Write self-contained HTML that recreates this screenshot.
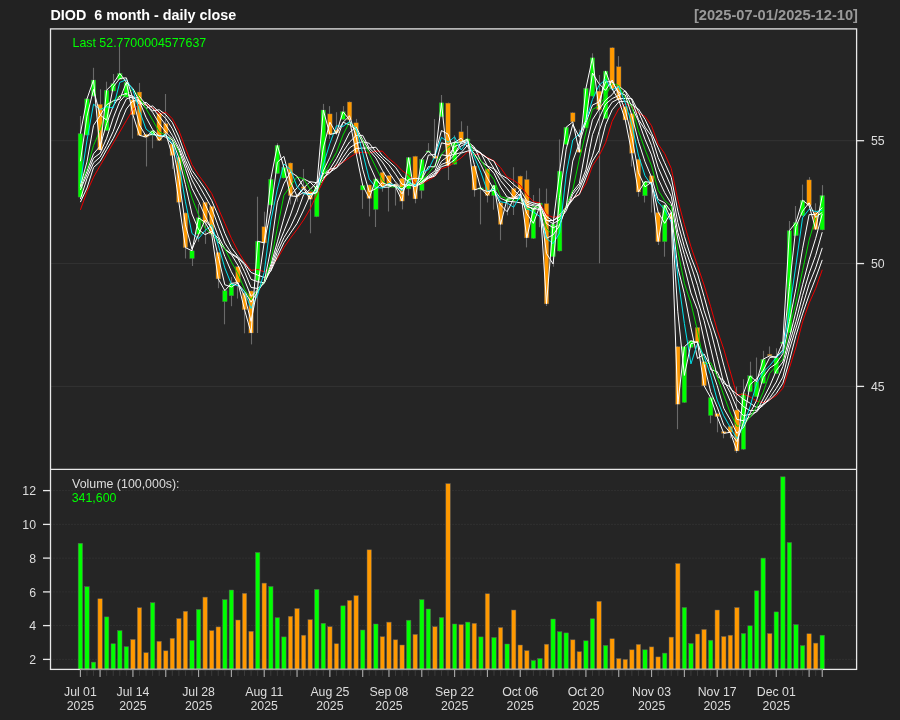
<!DOCTYPE html>
<html><head><meta charset="utf-8"><title>DIOD 6 month - daily close</title>
<style>
html,body{margin:0;padding:0;background:#222222;width:900px;height:720px;overflow:hidden}
text{font-family:"Liberation Sans",Arial,Helvetica,sans-serif}
.title{font-size:14.35px;font-weight:bold;fill:#ffffff}
.ax{font-size:12.3px;fill:#dddddd}
.lg{font-size:12.4px}
</style></head><body>
<svg width="900" height="720" viewBox="0 0 900 720" style="display:block">
<rect x="0" y="0" width="900" height="720" fill="#222222"/>
<rect x="50.5" y="28.9" width="806.1" height="640.5" fill="#252525"/>
<line x1="50.5" y1="386.40" x2="856.6" y2="386.40" stroke="#333333" stroke-width="1"/>
<line x1="50.5" y1="263.55" x2="856.6" y2="263.55" stroke="#333333" stroke-width="1"/>
<line x1="50.5" y1="140.70" x2="856.6" y2="140.70" stroke="#333333" stroke-width="1"/>
<line x1="50.5" y1="659.4" x2="856.6" y2="659.4" stroke="#3a3a3a" stroke-width="1" stroke-dasharray="1,2"/>
<line x1="50.5" y1="625.6" x2="856.6" y2="625.6" stroke="#3a3a3a" stroke-width="1" stroke-dasharray="1,2"/>
<line x1="50.5" y1="591.9" x2="856.6" y2="591.9" stroke="#3a3a3a" stroke-width="1" stroke-dasharray="1,2"/>
<line x1="50.5" y1="558.1" x2="856.6" y2="558.1" stroke="#3a3a3a" stroke-width="1" stroke-dasharray="1,2"/>
<line x1="50.5" y1="524.4" x2="856.6" y2="524.4" stroke="#3a3a3a" stroke-width="1" stroke-dasharray="1,2"/>
<line x1="50.5" y1="490.6" x2="856.6" y2="490.6" stroke="#3a3a3a" stroke-width="1" stroke-dasharray="1,2"/>
<rect x="78.15" y="543.30" width="4.5" height="126.60" fill="#00ff00" stroke="#5c5c5c" stroke-width="0.5"/>
<rect x="84.72" y="586.70" width="4.5" height="83.20" fill="#00ff00" stroke="#5c5c5c" stroke-width="0.5"/>
<rect x="91.28" y="662.10" width="4.5" height="7.80" fill="#00ff00" stroke="#5c5c5c" stroke-width="0.5"/>
<rect x="97.84" y="598.75" width="4.5" height="71.15" fill="#ff9900" stroke="#5c5c5c" stroke-width="0.5"/>
<rect x="104.41" y="616.90" width="4.5" height="53.00" fill="#00ff00" stroke="#5c5c5c" stroke-width="0.5"/>
<rect x="110.98" y="643.75" width="4.5" height="26.15" fill="#00ff00" stroke="#5c5c5c" stroke-width="0.5"/>
<rect x="117.54" y="630.60" width="4.5" height="39.30" fill="#00ff00" stroke="#5c5c5c" stroke-width="0.5"/>
<rect x="124.11" y="646.70" width="4.5" height="23.20" fill="#00ff00" stroke="#5c5c5c" stroke-width="0.5"/>
<rect x="130.67" y="639.40" width="4.5" height="30.50" fill="#ff9900" stroke="#5c5c5c" stroke-width="0.5"/>
<rect x="137.24" y="607.70" width="4.5" height="62.20" fill="#ff9900" stroke="#5c5c5c" stroke-width="0.5"/>
<rect x="143.80" y="652.70" width="4.5" height="17.20" fill="#ff9900" stroke="#5c5c5c" stroke-width="0.5"/>
<rect x="150.37" y="602.70" width="4.5" height="67.20" fill="#00ff00" stroke="#5c5c5c" stroke-width="0.5"/>
<rect x="156.93" y="641.25" width="4.5" height="28.65" fill="#ff9900" stroke="#5c5c5c" stroke-width="0.5"/>
<rect x="163.50" y="650.80" width="4.5" height="19.10" fill="#ff9900" stroke="#5c5c5c" stroke-width="0.5"/>
<rect x="170.06" y="638.30" width="4.5" height="31.60" fill="#ff9900" stroke="#5c5c5c" stroke-width="0.5"/>
<rect x="176.62" y="618.50" width="4.5" height="51.40" fill="#ff9900" stroke="#5c5c5c" stroke-width="0.5"/>
<rect x="183.19" y="611.25" width="4.5" height="58.65" fill="#ff9900" stroke="#5c5c5c" stroke-width="0.5"/>
<rect x="189.75" y="640.40" width="4.5" height="29.50" fill="#00ff00" stroke="#5c5c5c" stroke-width="0.5"/>
<rect x="196.32" y="609.40" width="4.5" height="60.50" fill="#00ff00" stroke="#5c5c5c" stroke-width="0.5"/>
<rect x="202.89" y="597.10" width="4.5" height="72.80" fill="#ff9900" stroke="#5c5c5c" stroke-width="0.5"/>
<rect x="209.45" y="630.60" width="4.5" height="39.30" fill="#ff9900" stroke="#5c5c5c" stroke-width="0.5"/>
<rect x="216.02" y="626.90" width="4.5" height="43.00" fill="#ff9900" stroke="#5c5c5c" stroke-width="0.5"/>
<rect x="222.58" y="599.60" width="4.5" height="70.30" fill="#00ff00" stroke="#5c5c5c" stroke-width="0.5"/>
<rect x="229.15" y="590.00" width="4.5" height="79.90" fill="#00ff00" stroke="#5c5c5c" stroke-width="0.5"/>
<rect x="235.71" y="620.00" width="4.5" height="49.90" fill="#ff9900" stroke="#5c5c5c" stroke-width="0.5"/>
<rect x="242.28" y="593.30" width="4.5" height="76.60" fill="#ff9900" stroke="#5c5c5c" stroke-width="0.5"/>
<rect x="248.84" y="631.25" width="4.5" height="38.65" fill="#ff9900" stroke="#5c5c5c" stroke-width="0.5"/>
<rect x="255.41" y="552.50" width="4.5" height="117.40" fill="#00ff00" stroke="#5c5c5c" stroke-width="0.5"/>
<rect x="261.97" y="583.10" width="4.5" height="86.80" fill="#ff9900" stroke="#5c5c5c" stroke-width="0.5"/>
<rect x="268.54" y="586.50" width="4.5" height="83.40" fill="#00ff00" stroke="#5c5c5c" stroke-width="0.5"/>
<rect x="275.10" y="617.70" width="4.5" height="52.20" fill="#00ff00" stroke="#5c5c5c" stroke-width="0.5"/>
<rect x="281.67" y="636.90" width="4.5" height="33.00" fill="#00ff00" stroke="#5c5c5c" stroke-width="0.5"/>
<rect x="288.23" y="616.25" width="4.5" height="53.65" fill="#ff9900" stroke="#5c5c5c" stroke-width="0.5"/>
<rect x="294.80" y="608.50" width="4.5" height="61.40" fill="#ff9900" stroke="#5c5c5c" stroke-width="0.5"/>
<rect x="301.36" y="635.20" width="4.5" height="34.70" fill="#ff9900" stroke="#5c5c5c" stroke-width="0.5"/>
<rect x="307.93" y="619.60" width="4.5" height="50.30" fill="#ff9900" stroke="#5c5c5c" stroke-width="0.5"/>
<rect x="314.49" y="589.40" width="4.5" height="80.50" fill="#00ff00" stroke="#5c5c5c" stroke-width="0.5"/>
<rect x="321.06" y="623.30" width="4.5" height="46.60" fill="#00ff00" stroke="#5c5c5c" stroke-width="0.5"/>
<rect x="327.62" y="626.70" width="4.5" height="43.20" fill="#ff9900" stroke="#5c5c5c" stroke-width="0.5"/>
<rect x="334.19" y="643.75" width="4.5" height="26.15" fill="#ff9900" stroke="#5c5c5c" stroke-width="0.5"/>
<rect x="340.75" y="605.80" width="4.5" height="64.10" fill="#00ff00" stroke="#5c5c5c" stroke-width="0.5"/>
<rect x="347.32" y="600.40" width="4.5" height="69.50" fill="#ff9900" stroke="#5c5c5c" stroke-width="0.5"/>
<rect x="353.88" y="595.60" width="4.5" height="74.30" fill="#ff9900" stroke="#5c5c5c" stroke-width="0.5"/>
<rect x="360.45" y="630.00" width="4.5" height="39.90" fill="#00ff00" stroke="#5c5c5c" stroke-width="0.5"/>
<rect x="367.01" y="549.80" width="4.5" height="120.10" fill="#ff9900" stroke="#5c5c5c" stroke-width="0.5"/>
<rect x="373.58" y="624.00" width="4.5" height="45.90" fill="#00ff00" stroke="#5c5c5c" stroke-width="0.5"/>
<rect x="380.14" y="636.70" width="4.5" height="33.20" fill="#ff9900" stroke="#5c5c5c" stroke-width="0.5"/>
<rect x="386.71" y="622.10" width="4.5" height="47.80" fill="#ff9900" stroke="#5c5c5c" stroke-width="0.5"/>
<rect x="393.27" y="639.80" width="4.5" height="30.10" fill="#ff9900" stroke="#5c5c5c" stroke-width="0.5"/>
<rect x="399.84" y="645.00" width="4.5" height="24.90" fill="#ff9900" stroke="#5c5c5c" stroke-width="0.5"/>
<rect x="406.40" y="620.20" width="4.5" height="49.70" fill="#00ff00" stroke="#5c5c5c" stroke-width="0.5"/>
<rect x="412.97" y="634.40" width="4.5" height="35.50" fill="#ff9900" stroke="#5c5c5c" stroke-width="0.5"/>
<rect x="419.53" y="599.60" width="4.5" height="70.30" fill="#00ff00" stroke="#5c5c5c" stroke-width="0.5"/>
<rect x="426.10" y="609.00" width="4.5" height="60.90" fill="#00ff00" stroke="#5c5c5c" stroke-width="0.5"/>
<rect x="432.66" y="626.70" width="4.5" height="43.20" fill="#ff9900" stroke="#5c5c5c" stroke-width="0.5"/>
<rect x="439.23" y="617.50" width="4.5" height="52.40" fill="#00ff00" stroke="#5c5c5c" stroke-width="0.5"/>
<rect x="445.79" y="483.60" width="4.5" height="186.30" fill="#ff9900" stroke="#5c5c5c" stroke-width="0.5"/>
<rect x="452.36" y="624.00" width="4.5" height="45.90" fill="#00ff00" stroke="#5c5c5c" stroke-width="0.5"/>
<rect x="458.92" y="624.60" width="4.5" height="45.30" fill="#ff9900" stroke="#5c5c5c" stroke-width="0.5"/>
<rect x="465.49" y="622.10" width="4.5" height="47.80" fill="#00ff00" stroke="#5c5c5c" stroke-width="0.5"/>
<rect x="472.05" y="623.30" width="4.5" height="46.60" fill="#ff9900" stroke="#5c5c5c" stroke-width="0.5"/>
<rect x="478.62" y="636.90" width="4.5" height="33.00" fill="#00ff00" stroke="#5c5c5c" stroke-width="0.5"/>
<rect x="485.18" y="593.75" width="4.5" height="76.15" fill="#ff9900" stroke="#5c5c5c" stroke-width="0.5"/>
<rect x="491.75" y="637.50" width="4.5" height="32.40" fill="#00ff00" stroke="#5c5c5c" stroke-width="0.5"/>
<rect x="498.31" y="627.50" width="4.5" height="42.40" fill="#ff9900" stroke="#5c5c5c" stroke-width="0.5"/>
<rect x="504.88" y="644.00" width="4.5" height="25.90" fill="#00ff00" stroke="#5c5c5c" stroke-width="0.5"/>
<rect x="511.44" y="610.00" width="4.5" height="59.90" fill="#ff9900" stroke="#5c5c5c" stroke-width="0.5"/>
<rect x="518.00" y="645.00" width="4.5" height="24.90" fill="#ff9900" stroke="#5c5c5c" stroke-width="0.5"/>
<rect x="524.57" y="650.60" width="4.5" height="19.30" fill="#ff9900" stroke="#5c5c5c" stroke-width="0.5"/>
<rect x="531.13" y="660.40" width="4.5" height="9.50" fill="#00ff00" stroke="#5c5c5c" stroke-width="0.5"/>
<rect x="537.70" y="658.50" width="4.5" height="11.40" fill="#00ff00" stroke="#5c5c5c" stroke-width="0.5"/>
<rect x="544.26" y="644.20" width="4.5" height="25.70" fill="#ff9900" stroke="#5c5c5c" stroke-width="0.5"/>
<rect x="550.83" y="619.00" width="4.5" height="50.90" fill="#00ff00" stroke="#5c5c5c" stroke-width="0.5"/>
<rect x="557.39" y="631.70" width="4.5" height="38.20" fill="#00ff00" stroke="#5c5c5c" stroke-width="0.5"/>
<rect x="563.96" y="632.90" width="4.5" height="37.00" fill="#00ff00" stroke="#5c5c5c" stroke-width="0.5"/>
<rect x="570.53" y="639.80" width="4.5" height="30.10" fill="#ff9900" stroke="#5c5c5c" stroke-width="0.5"/>
<rect x="577.09" y="651.70" width="4.5" height="18.20" fill="#ff9900" stroke="#5c5c5c" stroke-width="0.5"/>
<rect x="583.66" y="640.80" width="4.5" height="29.10" fill="#00ff00" stroke="#5c5c5c" stroke-width="0.5"/>
<rect x="590.22" y="618.75" width="4.5" height="51.15" fill="#00ff00" stroke="#5c5c5c" stroke-width="0.5"/>
<rect x="596.78" y="601.25" width="4.5" height="68.65" fill="#ff9900" stroke="#5c5c5c" stroke-width="0.5"/>
<rect x="603.35" y="645.40" width="4.5" height="24.50" fill="#00ff00" stroke="#5c5c5c" stroke-width="0.5"/>
<rect x="609.91" y="638.75" width="4.5" height="31.15" fill="#ff9900" stroke="#5c5c5c" stroke-width="0.5"/>
<rect x="616.48" y="658.50" width="4.5" height="11.40" fill="#ff9900" stroke="#5c5c5c" stroke-width="0.5"/>
<rect x="623.04" y="659.40" width="4.5" height="10.50" fill="#ff9900" stroke="#5c5c5c" stroke-width="0.5"/>
<rect x="629.61" y="649.80" width="4.5" height="20.10" fill="#ff9900" stroke="#5c5c5c" stroke-width="0.5"/>
<rect x="636.17" y="644.40" width="4.5" height="25.50" fill="#ff9900" stroke="#5c5c5c" stroke-width="0.5"/>
<rect x="642.74" y="649.80" width="4.5" height="20.10" fill="#00ff00" stroke="#5c5c5c" stroke-width="0.5"/>
<rect x="649.31" y="646.90" width="4.5" height="23.00" fill="#ff9900" stroke="#5c5c5c" stroke-width="0.5"/>
<rect x="655.87" y="656.90" width="4.5" height="13.00" fill="#ff9900" stroke="#5c5c5c" stroke-width="0.5"/>
<rect x="662.44" y="653.10" width="4.5" height="16.80" fill="#00ff00" stroke="#5c5c5c" stroke-width="0.5"/>
<rect x="669.00" y="637.10" width="4.5" height="32.80" fill="#ff9900" stroke="#5c5c5c" stroke-width="0.5"/>
<rect x="675.57" y="563.50" width="4.5" height="106.40" fill="#ff9900" stroke="#5c5c5c" stroke-width="0.5"/>
<rect x="682.13" y="607.50" width="4.5" height="62.40" fill="#00ff00" stroke="#5c5c5c" stroke-width="0.5"/>
<rect x="688.70" y="643.50" width="4.5" height="26.40" fill="#00ff00" stroke="#5c5c5c" stroke-width="0.5"/>
<rect x="695.26" y="634.00" width="4.5" height="35.90" fill="#ff9900" stroke="#5c5c5c" stroke-width="0.5"/>
<rect x="701.83" y="629.40" width="4.5" height="40.50" fill="#ff9900" stroke="#5c5c5c" stroke-width="0.5"/>
<rect x="708.39" y="640.20" width="4.5" height="29.70" fill="#00ff00" stroke="#5c5c5c" stroke-width="0.5"/>
<rect x="714.96" y="610.00" width="4.5" height="59.90" fill="#ff9900" stroke="#5c5c5c" stroke-width="0.5"/>
<rect x="721.52" y="636.50" width="4.5" height="33.40" fill="#ff9900" stroke="#5c5c5c" stroke-width="0.5"/>
<rect x="728.09" y="635.20" width="4.5" height="34.70" fill="#ff9900" stroke="#5c5c5c" stroke-width="0.5"/>
<rect x="734.65" y="607.50" width="4.5" height="62.40" fill="#ff9900" stroke="#5c5c5c" stroke-width="0.5"/>
<rect x="741.22" y="633.50" width="4.5" height="36.40" fill="#00ff00" stroke="#5c5c5c" stroke-width="0.5"/>
<rect x="747.78" y="625.80" width="4.5" height="44.10" fill="#00ff00" stroke="#5c5c5c" stroke-width="0.5"/>
<rect x="754.35" y="590.80" width="4.5" height="79.10" fill="#00ff00" stroke="#5c5c5c" stroke-width="0.5"/>
<rect x="760.91" y="558.10" width="4.5" height="111.80" fill="#00ff00" stroke="#5c5c5c" stroke-width="0.5"/>
<rect x="767.48" y="633.50" width="4.5" height="36.40" fill="#ff9900" stroke="#5c5c5c" stroke-width="0.5"/>
<rect x="774.04" y="611.90" width="4.5" height="58.00" fill="#00ff00" stroke="#5c5c5c" stroke-width="0.5"/>
<rect x="780.61" y="476.80" width="4.5" height="193.10" fill="#00ff00" stroke="#5c5c5c" stroke-width="0.5"/>
<rect x="787.17" y="542.50" width="4.5" height="127.40" fill="#00ff00" stroke="#5c5c5c" stroke-width="0.5"/>
<rect x="793.74" y="624.60" width="4.5" height="45.30" fill="#00ff00" stroke="#5c5c5c" stroke-width="0.5"/>
<rect x="800.30" y="645.60" width="4.5" height="24.30" fill="#00ff00" stroke="#5c5c5c" stroke-width="0.5"/>
<rect x="806.87" y="633.75" width="4.5" height="36.15" fill="#ff9900" stroke="#5c5c5c" stroke-width="0.5"/>
<rect x="813.43" y="643.10" width="4.5" height="26.80" fill="#ff9900" stroke="#5c5c5c" stroke-width="0.5"/>
<rect x="820.00" y="635.20" width="4.5" height="34.70" fill="#00ff00" stroke="#5c5c5c" stroke-width="0.5"/>
<line x1="80.50" y1="116.0" x2="80.50" y2="197.1" stroke="#6a6a6a" stroke-width="1.1"/>
<line x1="86.50" y1="98.4" x2="86.50" y2="135.5" stroke="#6a6a6a" stroke-width="1.1"/>
<line x1="93.50" y1="67.8" x2="93.50" y2="96.5" stroke="#6a6a6a" stroke-width="1.1"/>
<line x1="100.50" y1="89.2" x2="100.50" y2="150.5" stroke="#6a6a6a" stroke-width="1.1"/>
<line x1="106.50" y1="81.7" x2="106.50" y2="131.0" stroke="#6a6a6a" stroke-width="1.1"/>
<line x1="113.50" y1="74.0" x2="113.50" y2="91.5" stroke="#6a6a6a" stroke-width="1.1"/>
<line x1="119.50" y1="44.9" x2="119.50" y2="80.0" stroke="#6a6a6a" stroke-width="1.1"/>
<line x1="126.50" y1="81.8" x2="126.50" y2="97.7" stroke="#6a6a6a" stroke-width="1.1"/>
<line x1="132.50" y1="99.3" x2="132.50" y2="138.6" stroke="#6a6a6a" stroke-width="1.1"/>
<line x1="139.50" y1="82.9" x2="139.50" y2="135.8" stroke="#6a6a6a" stroke-width="1.1"/>
<line x1="146.50" y1="133.7" x2="146.50" y2="166.5" stroke="#6a6a6a" stroke-width="1.1"/>
<line x1="152.50" y1="130.3" x2="152.50" y2="148.3" stroke="#6a6a6a" stroke-width="1.1"/>
<line x1="159.50" y1="112.8" x2="159.50" y2="141.0" stroke="#6a6a6a" stroke-width="1.1"/>
<line x1="165.50" y1="94.0" x2="165.50" y2="134.0" stroke="#6a6a6a" stroke-width="1.1"/>
<line x1="172.50" y1="143.5" x2="172.50" y2="168.9" stroke="#6a6a6a" stroke-width="1.1"/>
<line x1="178.50" y1="156.7" x2="178.50" y2="202.7" stroke="#6a6a6a" stroke-width="1.1"/>
<line x1="185.50" y1="212.5" x2="185.50" y2="258.5" stroke="#6a6a6a" stroke-width="1.1"/>
<line x1="192.50" y1="250.3" x2="192.50" y2="266.0" stroke="#6a6a6a" stroke-width="1.1"/>
<line x1="198.50" y1="204.0" x2="198.50" y2="241.8" stroke="#6a6a6a" stroke-width="1.1"/>
<line x1="205.50" y1="201.7" x2="205.50" y2="243.9" stroke="#6a6a6a" stroke-width="1.1"/>
<line x1="211.50" y1="205.9" x2="211.50" y2="234.7" stroke="#6a6a6a" stroke-width="1.1"/>
<line x1="218.50" y1="252.0" x2="218.50" y2="288.2" stroke="#6a6a6a" stroke-width="1.1"/>
<line x1="224.50" y1="290.1" x2="224.50" y2="324.3" stroke="#6a6a6a" stroke-width="1.1"/>
<line x1="231.50" y1="277.0" x2="231.50" y2="306.2" stroke="#6a6a6a" stroke-width="1.1"/>
<line x1="237.50" y1="266.2" x2="237.50" y2="298.6" stroke="#6a6a6a" stroke-width="1.1"/>
<line x1="244.50" y1="292.5" x2="244.50" y2="333.3" stroke="#6a6a6a" stroke-width="1.1"/>
<line x1="251.50" y1="290.5" x2="251.50" y2="344.4" stroke="#6a6a6a" stroke-width="1.1"/>
<line x1="257.50" y1="196.7" x2="257.50" y2="333.0" stroke="#6a6a6a" stroke-width="1.1"/>
<line x1="264.50" y1="211.7" x2="264.50" y2="243.4" stroke="#6a6a6a" stroke-width="1.1"/>
<line x1="270.50" y1="178.7" x2="270.50" y2="205.5" stroke="#6a6a6a" stroke-width="1.1"/>
<line x1="277.50" y1="143.3" x2="277.50" y2="174.0" stroke="#6a6a6a" stroke-width="1.1"/>
<line x1="283.50" y1="167.0" x2="283.50" y2="178.5" stroke="#6a6a6a" stroke-width="1.1"/>
<line x1="290.50" y1="162.5" x2="290.50" y2="204.5" stroke="#6a6a6a" stroke-width="1.1"/>
<line x1="297.50" y1="195.1" x2="297.50" y2="201.7" stroke="#6a6a6a" stroke-width="1.1"/>
<line x1="303.50" y1="169.0" x2="303.50" y2="190.0" stroke="#6a6a6a" stroke-width="1.1"/>
<line x1="310.50" y1="191.2" x2="310.50" y2="233.3" stroke="#6a6a6a" stroke-width="1.1"/>
<line x1="316.50" y1="185.5" x2="316.50" y2="217.2" stroke="#6a6a6a" stroke-width="1.1"/>
<line x1="323.50" y1="103.9" x2="323.50" y2="173.8" stroke="#6a6a6a" stroke-width="1.1"/>
<line x1="329.50" y1="106.1" x2="329.50" y2="138.9" stroke="#6a6a6a" stroke-width="1.1"/>
<line x1="336.50" y1="112.2" x2="336.50" y2="135.0" stroke="#6a6a6a" stroke-width="1.1"/>
<line x1="343.50" y1="106.1" x2="343.50" y2="119.9" stroke="#6a6a6a" stroke-width="1.1"/>
<line x1="349.50" y1="101.5" x2="349.50" y2="120.5" stroke="#6a6a6a" stroke-width="1.1"/>
<line x1="356.50" y1="118.9" x2="356.50" y2="153.8" stroke="#6a6a6a" stroke-width="1.1"/>
<line x1="362.50" y1="184.8" x2="362.50" y2="208.9" stroke="#6a6a6a" stroke-width="1.1"/>
<line x1="369.50" y1="184.5" x2="369.50" y2="216.5" stroke="#6a6a6a" stroke-width="1.1"/>
<line x1="375.50" y1="178.4" x2="375.50" y2="227.0" stroke="#6a6a6a" stroke-width="1.1"/>
<line x1="382.50" y1="171.9" x2="382.50" y2="191.7" stroke="#6a6a6a" stroke-width="1.1"/>
<line x1="388.50" y1="175.1" x2="388.50" y2="211.5" stroke="#6a6a6a" stroke-width="1.1"/>
<line x1="395.50" y1="183.9" x2="395.50" y2="205.6" stroke="#6a6a6a" stroke-width="1.1"/>
<line x1="402.50" y1="177.8" x2="402.50" y2="209.4" stroke="#6a6a6a" stroke-width="1.1"/>
<line x1="408.50" y1="157.1" x2="408.50" y2="195.6" stroke="#6a6a6a" stroke-width="1.1"/>
<line x1="415.50" y1="155.8" x2="415.50" y2="203.3" stroke="#6a6a6a" stroke-width="1.1"/>
<line x1="421.50" y1="158.8" x2="421.50" y2="198.6" stroke="#6a6a6a" stroke-width="1.1"/>
<line x1="428.50" y1="143.1" x2="428.50" y2="152.7" stroke="#6a6a6a" stroke-width="1.1"/>
<line x1="434.50" y1="119.1" x2="434.50" y2="158.8" stroke="#6a6a6a" stroke-width="1.1"/>
<line x1="441.50" y1="95.0" x2="441.50" y2="117.2" stroke="#6a6a6a" stroke-width="1.1"/>
<line x1="448.50" y1="102.6" x2="448.50" y2="180.0" stroke="#6a6a6a" stroke-width="1.1"/>
<line x1="454.50" y1="135.3" x2="454.50" y2="164.7" stroke="#6a6a6a" stroke-width="1.1"/>
<line x1="461.50" y1="121.3" x2="461.50" y2="142.5" stroke="#6a6a6a" stroke-width="1.1"/>
<line x1="467.50" y1="125.8" x2="467.50" y2="141.5" stroke="#6a6a6a" stroke-width="1.1"/>
<line x1="474.50" y1="165.5" x2="474.50" y2="196.7" stroke="#6a6a6a" stroke-width="1.1"/>
<line x1="480.50" y1="187.3" x2="480.50" y2="224.4" stroke="#6a6a6a" stroke-width="1.1"/>
<line x1="487.50" y1="168.4" x2="487.50" y2="202.5" stroke="#6a6a6a" stroke-width="1.1"/>
<line x1="493.50" y1="184.8" x2="493.50" y2="209.7" stroke="#6a6a6a" stroke-width="1.1"/>
<line x1="500.50" y1="202.3" x2="500.50" y2="240.3" stroke="#6a6a6a" stroke-width="1.1"/>
<line x1="507.50" y1="198.6" x2="507.50" y2="215.4" stroke="#6a6a6a" stroke-width="1.1"/>
<line x1="513.50" y1="167.2" x2="513.50" y2="215.0" stroke="#6a6a6a" stroke-width="1.1"/>
<line x1="520.50" y1="175.6" x2="520.50" y2="189.7" stroke="#6a6a6a" stroke-width="1.1"/>
<line x1="526.50" y1="170.6" x2="526.50" y2="247.4" stroke="#6a6a6a" stroke-width="1.1"/>
<line x1="533.50" y1="195.0" x2="533.50" y2="238.9" stroke="#6a6a6a" stroke-width="1.1"/>
<line x1="539.50" y1="188.3" x2="539.50" y2="227.2" stroke="#6a6a6a" stroke-width="1.1"/>
<line x1="546.50" y1="188.6" x2="546.50" y2="306.0" stroke="#6a6a6a" stroke-width="1.1"/>
<line x1="553.50" y1="223.5" x2="553.50" y2="266.7" stroke="#6a6a6a" stroke-width="1.1"/>
<line x1="559.50" y1="139.4" x2="559.50" y2="251.5" stroke="#6a6a6a" stroke-width="1.1"/>
<line x1="566.50" y1="126.7" x2="566.50" y2="144.9" stroke="#6a6a6a" stroke-width="1.1"/>
<line x1="572.50" y1="112.3" x2="572.50" y2="122.4" stroke="#6a6a6a" stroke-width="1.1"/>
<line x1="579.50" y1="129.4" x2="579.50" y2="152.7" stroke="#6a6a6a" stroke-width="1.1"/>
<line x1="585.50" y1="87.8" x2="585.50" y2="128.3" stroke="#6a6a6a" stroke-width="1.1"/>
<line x1="592.50" y1="53.3" x2="592.50" y2="96.6" stroke="#6a6a6a" stroke-width="1.1"/>
<line x1="599.50" y1="75.0" x2="599.50" y2="263.3" stroke="#6a6a6a" stroke-width="1.1"/>
<line x1="605.50" y1="70.6" x2="605.50" y2="119.1" stroke="#6a6a6a" stroke-width="1.1"/>
<line x1="612.50" y1="47.3" x2="612.50" y2="89.4" stroke="#6a6a6a" stroke-width="1.1"/>
<line x1="618.50" y1="56.1" x2="618.50" y2="100.5" stroke="#6a6a6a" stroke-width="1.1"/>
<line x1="625.50" y1="106.2" x2="625.50" y2="120.5" stroke="#6a6a6a" stroke-width="1.1"/>
<line x1="631.50" y1="113.1" x2="631.50" y2="166.5" stroke="#6a6a6a" stroke-width="1.1"/>
<line x1="638.50" y1="158.7" x2="638.50" y2="196.7" stroke="#6a6a6a" stroke-width="1.1"/>
<line x1="644.50" y1="181.2" x2="644.50" y2="202.5" stroke="#6a6a6a" stroke-width="1.1"/>
<line x1="651.50" y1="175.3" x2="651.50" y2="212.5" stroke="#6a6a6a" stroke-width="1.1"/>
<line x1="658.50" y1="212.0" x2="658.50" y2="245.0" stroke="#6a6a6a" stroke-width="1.1"/>
<line x1="664.50" y1="204.5" x2="664.50" y2="256.7" stroke="#6a6a6a" stroke-width="1.1"/>
<line x1="671.50" y1="213.0" x2="671.50" y2="219.8" stroke="#6a6a6a" stroke-width="1.1"/>
<line x1="677.50" y1="346.2" x2="677.50" y2="429.2" stroke="#6a6a6a" stroke-width="1.1"/>
<line x1="684.50" y1="346.2" x2="684.50" y2="403.0" stroke="#6a6a6a" stroke-width="1.1"/>
<line x1="690.50" y1="340.3" x2="690.50" y2="348.0" stroke="#6a6a6a" stroke-width="1.1"/>
<line x1="697.50" y1="327.0" x2="697.50" y2="343.0" stroke="#6a6a6a" stroke-width="1.1"/>
<line x1="704.50" y1="361.2" x2="704.50" y2="386.3" stroke="#6a6a6a" stroke-width="1.1"/>
<line x1="710.50" y1="397.0" x2="710.50" y2="423.3" stroke="#6a6a6a" stroke-width="1.1"/>
<line x1="717.50" y1="413.2" x2="717.50" y2="432.3" stroke="#6a6a6a" stroke-width="1.1"/>
<line x1="723.50" y1="431.0" x2="723.50" y2="438.3" stroke="#6a6a6a" stroke-width="1.1"/>
<line x1="730.50" y1="425.8" x2="730.50" y2="438.3" stroke="#6a6a6a" stroke-width="1.1"/>
<line x1="736.50" y1="386.7" x2="736.50" y2="453.0" stroke="#6a6a6a" stroke-width="1.1"/>
<line x1="743.50" y1="379.2" x2="743.50" y2="449.7" stroke="#6a6a6a" stroke-width="1.1"/>
<line x1="750.50" y1="361.7" x2="750.50" y2="392.2" stroke="#6a6a6a" stroke-width="1.1"/>
<line x1="756.50" y1="357.5" x2="756.50" y2="397.2" stroke="#6a6a6a" stroke-width="1.1"/>
<line x1="763.50" y1="350.8" x2="763.50" y2="383.8" stroke="#6a6a6a" stroke-width="1.1"/>
<line x1="769.50" y1="346.4" x2="769.50" y2="356.3" stroke="#6a6a6a" stroke-width="1.1"/>
<line x1="776.50" y1="348.3" x2="776.50" y2="374.1" stroke="#6a6a6a" stroke-width="1.1"/>
<line x1="782.50" y1="341.5" x2="782.50" y2="344.0" stroke="#6a6a6a" stroke-width="1.1"/>
<line x1="789.50" y1="221.0" x2="789.50" y2="333.0" stroke="#6a6a6a" stroke-width="1.1"/>
<line x1="795.50" y1="206.0" x2="795.50" y2="236.2" stroke="#6a6a6a" stroke-width="1.1"/>
<line x1="802.50" y1="184.6" x2="802.50" y2="216.3" stroke="#6a6a6a" stroke-width="1.1"/>
<line x1="809.50" y1="177.1" x2="809.50" y2="205.9" stroke="#6a6a6a" stroke-width="1.1"/>
<line x1="815.50" y1="203.3" x2="815.50" y2="229.9" stroke="#6a6a6a" stroke-width="1.1"/>
<line x1="822.50" y1="185.1" x2="822.50" y2="230.4" stroke="#6a6a6a" stroke-width="1.1"/>
<rect x="78.10" y="133.60" width="4.6" height="63.50" fill="#00ff00" stroke="#5c5c5c" stroke-width="0.4"/>
<rect x="84.67" y="98.90" width="4.6" height="36.10" fill="#00ff00" stroke="#5c5c5c" stroke-width="0.4"/>
<rect x="91.23" y="80.00" width="4.6" height="16.00" fill="#00ff00" stroke="#5c5c5c" stroke-width="0.4"/>
<rect x="97.80" y="104.30" width="4.6" height="45.70" fill="#ff9900" stroke="#5c5c5c" stroke-width="0.4"/>
<rect x="104.36" y="90.20" width="4.6" height="40.30" fill="#00ff00" stroke="#5c5c5c" stroke-width="0.4"/>
<rect x="110.93" y="83.50" width="4.6" height="7.50" fill="#00ff00" stroke="#5c5c5c" stroke-width="0.4"/>
<rect x="117.49" y="73.40" width="4.6" height="6.10" fill="#00ff00" stroke="#5c5c5c" stroke-width="0.4"/>
<rect x="124.06" y="82.30" width="4.6" height="14.90" fill="#00ff00" stroke="#5c5c5c" stroke-width="0.4"/>
<rect x="130.62" y="99.80" width="4.6" height="15.00" fill="#ff9900" stroke="#5c5c5c" stroke-width="0.4"/>
<rect x="137.19" y="92.00" width="4.6" height="43.30" fill="#ff9900" stroke="#5c5c5c" stroke-width="0.4"/>
<rect x="143.75" y="134.20" width="4.6" height="2.90" fill="#ff9900" stroke="#5c5c5c" stroke-width="0.4"/>
<rect x="150.31" y="130.80" width="4.6" height="4.40" fill="#00ff00" stroke="#5c5c5c" stroke-width="0.4"/>
<rect x="156.88" y="113.30" width="4.6" height="27.20" fill="#ff9900" stroke="#5c5c5c" stroke-width="0.4"/>
<rect x="163.44" y="123.50" width="4.6" height="10.00" fill="#ff9900" stroke="#5c5c5c" stroke-width="0.4"/>
<rect x="170.01" y="144.00" width="4.6" height="11.60" fill="#ff9900" stroke="#5c5c5c" stroke-width="0.4"/>
<rect x="176.57" y="157.20" width="4.6" height="45.00" fill="#ff9900" stroke="#5c5c5c" stroke-width="0.4"/>
<rect x="183.14" y="213.00" width="4.6" height="34.60" fill="#ff9900" stroke="#5c5c5c" stroke-width="0.4"/>
<rect x="189.70" y="250.80" width="4.6" height="7.70" fill="#00ff00" stroke="#5c5c5c" stroke-width="0.4"/>
<rect x="196.27" y="217.80" width="4.6" height="16.40" fill="#00ff00" stroke="#5c5c5c" stroke-width="0.4"/>
<rect x="202.84" y="202.20" width="4.6" height="20.20" fill="#ff9900" stroke="#5c5c5c" stroke-width="0.4"/>
<rect x="209.40" y="206.40" width="4.6" height="27.80" fill="#ff9900" stroke="#5c5c5c" stroke-width="0.4"/>
<rect x="215.97" y="252.50" width="4.6" height="26.40" fill="#ff9900" stroke="#5c5c5c" stroke-width="0.4"/>
<rect x="222.53" y="290.60" width="4.6" height="11.10" fill="#00ff00" stroke="#5c5c5c" stroke-width="0.4"/>
<rect x="229.09" y="283.30" width="4.6" height="12.50" fill="#00ff00" stroke="#5c5c5c" stroke-width="0.4"/>
<rect x="235.66" y="266.70" width="4.6" height="15.90" fill="#ff9900" stroke="#5c5c5c" stroke-width="0.4"/>
<rect x="242.22" y="293.00" width="4.6" height="16.70" fill="#ff9900" stroke="#5c5c5c" stroke-width="0.4"/>
<rect x="248.79" y="291.00" width="4.6" height="42.00" fill="#ff9900" stroke="#5c5c5c" stroke-width="0.4"/>
<rect x="255.36" y="241.20" width="4.6" height="39.40" fill="#00ff00" stroke="#5c5c5c" stroke-width="0.4"/>
<rect x="261.92" y="226.70" width="4.6" height="16.20" fill="#ff9900" stroke="#5c5c5c" stroke-width="0.4"/>
<rect x="268.49" y="179.20" width="4.6" height="25.80" fill="#00ff00" stroke="#5c5c5c" stroke-width="0.4"/>
<rect x="275.05" y="145.30" width="4.6" height="28.20" fill="#00ff00" stroke="#5c5c5c" stroke-width="0.4"/>
<rect x="281.62" y="167.50" width="4.6" height="10.50" fill="#00ff00" stroke="#5c5c5c" stroke-width="0.4"/>
<rect x="288.18" y="163.00" width="4.6" height="32.80" fill="#ff9900" stroke="#5c5c5c" stroke-width="0.4"/>
<rect x="294.75" y="195.60" width="4.6" height="1.00" fill="#ff9900" stroke="#5c5c5c" stroke-width="0.4"/>
<rect x="301.31" y="186.80" width="4.6" height="1.60" fill="#ff9900" stroke="#5c5c5c" stroke-width="0.4"/>
<rect x="307.88" y="191.70" width="4.6" height="7.50" fill="#ff9900" stroke="#5c5c5c" stroke-width="0.4"/>
<rect x="314.44" y="186.00" width="4.6" height="30.70" fill="#00ff00" stroke="#5c5c5c" stroke-width="0.4"/>
<rect x="321.00" y="110.00" width="4.6" height="63.30" fill="#00ff00" stroke="#5c5c5c" stroke-width="0.4"/>
<rect x="327.57" y="113.90" width="4.6" height="20.50" fill="#ff9900" stroke="#5c5c5c" stroke-width="0.4"/>
<rect x="334.14" y="130.00" width="4.6" height="3.00" fill="#ff9900" stroke="#5c5c5c" stroke-width="0.4"/>
<rect x="340.70" y="111.70" width="4.6" height="7.70" fill="#00ff00" stroke="#5c5c5c" stroke-width="0.4"/>
<rect x="347.27" y="102.00" width="4.6" height="18.00" fill="#ff9900" stroke="#5c5c5c" stroke-width="0.4"/>
<rect x="353.83" y="122.80" width="4.6" height="30.50" fill="#ff9900" stroke="#5c5c5c" stroke-width="0.4"/>
<rect x="360.40" y="185.30" width="4.6" height="4.70" fill="#00ff00" stroke="#5c5c5c" stroke-width="0.4"/>
<rect x="366.96" y="185.00" width="4.6" height="13.40" fill="#ff9900" stroke="#5c5c5c" stroke-width="0.4"/>
<rect x="373.53" y="178.90" width="4.6" height="30.60" fill="#00ff00" stroke="#5c5c5c" stroke-width="0.4"/>
<rect x="380.09" y="172.40" width="4.6" height="14.30" fill="#ff9900" stroke="#5c5c5c" stroke-width="0.4"/>
<rect x="386.66" y="175.60" width="4.6" height="8.80" fill="#ff9900" stroke="#5c5c5c" stroke-width="0.4"/>
<rect x="393.22" y="184.40" width="4.6" height="2.30" fill="#ff9900" stroke="#5c5c5c" stroke-width="0.4"/>
<rect x="399.79" y="178.30" width="4.6" height="22.80" fill="#ff9900" stroke="#5c5c5c" stroke-width="0.4"/>
<rect x="406.35" y="157.60" width="4.6" height="31.30" fill="#00ff00" stroke="#5c5c5c" stroke-width="0.4"/>
<rect x="412.92" y="156.30" width="4.6" height="42.60" fill="#ff9900" stroke="#5c5c5c" stroke-width="0.4"/>
<rect x="419.48" y="159.30" width="4.6" height="31.30" fill="#00ff00" stroke="#5c5c5c" stroke-width="0.4"/>
<rect x="426.05" y="150.90" width="4.6" height="1.30" fill="#00ff00" stroke="#5c5c5c" stroke-width="0.4"/>
<rect x="432.61" y="156.00" width="4.6" height="2.30" fill="#ff9900" stroke="#5c5c5c" stroke-width="0.4"/>
<rect x="439.18" y="102.80" width="4.6" height="13.90" fill="#00ff00" stroke="#5c5c5c" stroke-width="0.4"/>
<rect x="445.74" y="103.10" width="4.6" height="62.50" fill="#ff9900" stroke="#5c5c5c" stroke-width="0.4"/>
<rect x="452.31" y="142.40" width="4.6" height="21.80" fill="#00ff00" stroke="#5c5c5c" stroke-width="0.4"/>
<rect x="458.87" y="131.80" width="4.6" height="10.20" fill="#ff9900" stroke="#5c5c5c" stroke-width="0.4"/>
<rect x="465.44" y="139.00" width="4.6" height="2.00" fill="#00ff00" stroke="#5c5c5c" stroke-width="0.4"/>
<rect x="472.00" y="166.00" width="4.6" height="24.00" fill="#ff9900" stroke="#5c5c5c" stroke-width="0.4"/>
<rect x="478.56" y="187.80" width="4.6" height="1.60" fill="#00ff00" stroke="#5c5c5c" stroke-width="0.4"/>
<rect x="485.13" y="168.90" width="4.6" height="26.70" fill="#ff9900" stroke="#5c5c5c" stroke-width="0.4"/>
<rect x="491.69" y="185.30" width="4.6" height="10.30" fill="#00ff00" stroke="#5c5c5c" stroke-width="0.4"/>
<rect x="498.26" y="202.80" width="4.6" height="21.60" fill="#ff9900" stroke="#5c5c5c" stroke-width="0.4"/>
<rect x="504.82" y="199.10" width="4.6" height="2.40" fill="#00ff00" stroke="#5c5c5c" stroke-width="0.4"/>
<rect x="511.39" y="188.30" width="4.6" height="10.00" fill="#ff9900" stroke="#5c5c5c" stroke-width="0.4"/>
<rect x="517.96" y="176.10" width="4.6" height="13.10" fill="#ff9900" stroke="#5c5c5c" stroke-width="0.4"/>
<rect x="524.52" y="179.40" width="4.6" height="58.50" fill="#ff9900" stroke="#5c5c5c" stroke-width="0.4"/>
<rect x="531.09" y="208.70" width="4.6" height="29.70" fill="#00ff00" stroke="#5c5c5c" stroke-width="0.4"/>
<rect x="537.65" y="203.00" width="4.6" height="3.00" fill="#00ff00" stroke="#5c5c5c" stroke-width="0.4"/>
<rect x="544.22" y="203.60" width="4.6" height="100.30" fill="#ff9900" stroke="#5c5c5c" stroke-width="0.4"/>
<rect x="550.78" y="224.00" width="4.6" height="32.70" fill="#00ff00" stroke="#5c5c5c" stroke-width="0.4"/>
<rect x="557.35" y="171.10" width="4.6" height="79.90" fill="#00ff00" stroke="#5c5c5c" stroke-width="0.4"/>
<rect x="563.91" y="127.20" width="4.6" height="17.20" fill="#00ff00" stroke="#5c5c5c" stroke-width="0.4"/>
<rect x="570.48" y="112.80" width="4.6" height="9.10" fill="#ff9900" stroke="#5c5c5c" stroke-width="0.4"/>
<rect x="577.04" y="149.40" width="4.6" height="2.80" fill="#ff9900" stroke="#5c5c5c" stroke-width="0.4"/>
<rect x="583.61" y="88.30" width="4.6" height="39.50" fill="#00ff00" stroke="#5c5c5c" stroke-width="0.4"/>
<rect x="590.17" y="57.80" width="4.6" height="38.30" fill="#00ff00" stroke="#5c5c5c" stroke-width="0.4"/>
<rect x="596.74" y="91.10" width="4.6" height="18.60" fill="#ff9900" stroke="#5c5c5c" stroke-width="0.4"/>
<rect x="603.30" y="71.10" width="4.6" height="47.50" fill="#00ff00" stroke="#5c5c5c" stroke-width="0.4"/>
<rect x="609.87" y="47.80" width="4.6" height="41.10" fill="#ff9900" stroke="#5c5c5c" stroke-width="0.4"/>
<rect x="616.43" y="66.70" width="4.6" height="33.30" fill="#ff9900" stroke="#5c5c5c" stroke-width="0.4"/>
<rect x="623.00" y="106.70" width="4.6" height="13.30" fill="#ff9900" stroke="#5c5c5c" stroke-width="0.4"/>
<rect x="629.56" y="113.60" width="4.6" height="39.70" fill="#ff9900" stroke="#5c5c5c" stroke-width="0.4"/>
<rect x="636.12" y="159.20" width="4.6" height="32.80" fill="#ff9900" stroke="#5c5c5c" stroke-width="0.4"/>
<rect x="642.69" y="181.70" width="4.6" height="14.10" fill="#00ff00" stroke="#5c5c5c" stroke-width="0.4"/>
<rect x="649.26" y="175.80" width="4.6" height="6.70" fill="#ff9900" stroke="#5c5c5c" stroke-width="0.4"/>
<rect x="655.82" y="212.50" width="4.6" height="29.20" fill="#ff9900" stroke="#5c5c5c" stroke-width="0.4"/>
<rect x="662.39" y="205.00" width="4.6" height="36.70" fill="#00ff00" stroke="#5c5c5c" stroke-width="0.4"/>
<rect x="668.95" y="213.50" width="4.6" height="5.80" fill="#ff9900" stroke="#5c5c5c" stroke-width="0.4"/>
<rect x="675.52" y="346.70" width="4.6" height="57.50" fill="#ff9900" stroke="#5c5c5c" stroke-width="0.4"/>
<rect x="682.08" y="346.70" width="4.6" height="55.80" fill="#00ff00" stroke="#5c5c5c" stroke-width="0.4"/>
<rect x="688.65" y="340.80" width="4.6" height="6.70" fill="#00ff00" stroke="#5c5c5c" stroke-width="0.4"/>
<rect x="695.21" y="327.50" width="4.6" height="15.00" fill="#ff9900" stroke="#5c5c5c" stroke-width="0.4"/>
<rect x="701.78" y="361.70" width="4.6" height="24.10" fill="#ff9900" stroke="#5c5c5c" stroke-width="0.4"/>
<rect x="708.34" y="397.50" width="4.6" height="18.00" fill="#00ff00" stroke="#5c5c5c" stroke-width="0.4"/>
<rect x="714.91" y="413.70" width="4.6" height="3.00" fill="#ff9900" stroke="#5c5c5c" stroke-width="0.4"/>
<rect x="721.47" y="431.50" width="4.6" height="1.80" fill="#ff9900" stroke="#5c5c5c" stroke-width="0.4"/>
<rect x="728.04" y="426.30" width="4.6" height="6.00" fill="#ff9900" stroke="#5c5c5c" stroke-width="0.4"/>
<rect x="734.60" y="410.00" width="4.6" height="41.00" fill="#ff9900" stroke="#5c5c5c" stroke-width="0.4"/>
<rect x="741.17" y="393.30" width="4.6" height="55.90" fill="#00ff00" stroke="#5c5c5c" stroke-width="0.4"/>
<rect x="747.73" y="375.80" width="4.6" height="15.90" fill="#00ff00" stroke="#5c5c5c" stroke-width="0.4"/>
<rect x="754.30" y="381.70" width="4.6" height="15.00" fill="#00ff00" stroke="#5c5c5c" stroke-width="0.4"/>
<rect x="760.86" y="359.20" width="4.6" height="24.10" fill="#00ff00" stroke="#5c5c5c" stroke-width="0.4"/>
<rect x="767.43" y="354.20" width="4.6" height="1.60" fill="#ff9900" stroke="#5c5c5c" stroke-width="0.4"/>
<rect x="773.99" y="357.60" width="4.6" height="16.00" fill="#00ff00" stroke="#5c5c5c" stroke-width="0.4"/>
<rect x="780.56" y="342.00" width="4.6" height="1.50" fill="#00ff00" stroke="#5c5c5c" stroke-width="0.4"/>
<rect x="787.12" y="230.70" width="4.6" height="101.80" fill="#00ff00" stroke="#5c5c5c" stroke-width="0.4"/>
<rect x="793.69" y="222.30" width="4.6" height="13.40" fill="#00ff00" stroke="#5c5c5c" stroke-width="0.4"/>
<rect x="800.25" y="200.20" width="4.6" height="15.60" fill="#00ff00" stroke="#5c5c5c" stroke-width="0.4"/>
<rect x="806.82" y="179.90" width="4.6" height="25.50" fill="#ff9900" stroke="#5c5c5c" stroke-width="0.4"/>
<rect x="813.38" y="212.20" width="4.6" height="17.20" fill="#ff9900" stroke="#5c5c5c" stroke-width="0.4"/>
<rect x="819.95" y="195.50" width="4.6" height="34.40" fill="#00ff00" stroke="#5c5c5c" stroke-width="0.4"/>
<polyline points="80.40,209.90 86.97,191.76 93.53,177.19 100.09,165.74 106.66,154.33 113.23,143.05 119.79,131.96 126.36,120.68 132.92,109.56 139.49,104.20 146.05,104.55 152.62,107.74 159.18,113.79 165.75,112.14 172.31,118.68 178.88,130.55 185.44,147.97 192.00,164.82 198.57,175.12 205.14,183.83 211.70,193.54 218.27,208.35 224.83,223.36 231.40,238.34 237.96,251.04 244.53,261.79 251.09,270.33 257.66,269.37 264.22,271.88 270.79,267.56 277.35,258.67 283.92,247.53 290.48,238.05 297.05,229.38 303.61,219.96 310.18,208.91 316.74,194.21 323.31,181.09 329.87,170.24 336.44,165.62 343.00,162.26 349.57,157.51 356.13,153.26 362.70,152.13 369.26,153.13 375.83,151.10 382.39,151.17 388.96,158.61 395.52,163.84 402.09,170.65 408.65,175.24 415.22,183.13 421.78,183.73 428.35,180.29 434.91,176.28 441.48,168.67 448.04,166.56 454.61,162.36 461.17,157.89 467.74,151.68 474.30,154.92 480.87,153.81 487.43,157.44 494.00,160.88 500.56,167.49 507.12,177.12 513.69,180.39 520.25,185.07 526.82,194.66 533.38,201.63 539.95,202.93 546.51,214.54 553.08,217.38 559.64,215.96 566.21,206.24 572.78,198.52 579.34,193.91 585.91,183.82 592.47,165.81 599.03,155.91 605.60,142.72 612.16,121.22 618.73,108.82 625.29,103.71 631.86,106.32 638.42,113.33 644.99,116.28 651.56,125.70 658.12,144.09 664.69,153.62 671.25,168.44 677.82,199.97 684.38,224.64 690.95,246.72 697.51,265.64 704.08,285.02 710.64,306.60 717.21,330.02 723.77,349.18 730.34,371.91 736.90,395.08 743.47,393.99 750.03,396.90 756.60,400.99 763.16,402.66 769.73,399.66 776.29,395.67 782.86,388.20 789.42,367.94 795.99,346.94 802.55,321.86 809.12,303.07 815.68,288.43 822.25,269.81" fill="none" stroke="#ee0000" stroke-width="1" stroke-linejoin="round"/>
<polyline points="80.40,202.08 86.97,187.99 93.53,167.49 100.09,161.46 106.66,149.67 113.23,138.47 119.79,124.94 126.36,108.98 132.92,100.74 139.49,100.93 146.05,105.18 152.62,110.82 159.18,109.77 165.75,114.58 172.31,122.59 178.88,136.90 185.44,155.27 192.00,170.38 198.57,179.54 205.14,189.02 211.70,200.51 218.27,215.89 224.83,233.34 231.40,247.53 237.96,256.47 244.53,263.37 251.09,272.50 257.66,275.10 264.22,277.38 270.79,271.27 277.35,256.42 283.92,242.74 290.48,233.02 297.05,223.47 303.61,209.99 310.18,195.12 316.74,188.99 323.31,174.22 329.87,169.24 336.44,167.88 343.00,161.68 349.57,153.26 356.13,148.44 362.70,148.10 369.26,148.01 375.83,147.22 382.39,155.74 388.96,161.30 395.52,167.27 402.09,177.20 408.65,181.38 415.22,186.44 421.78,183.56 428.35,178.28 434.91,175.99 441.48,166.67 448.04,164.58 454.61,159.66 461.17,153.09 467.74,151.02 474.30,150.03 480.87,153.20 487.43,158.17 494.00,161.17 500.56,174.68 507.12,178.40 513.69,184.61 520.25,189.86 526.82,200.84 533.38,202.92 539.95,204.61 546.51,216.64 553.08,220.94 559.64,215.02 566.21,207.03 572.78,198.54 579.34,194.43 585.91,177.81 592.47,161.04 599.03,150.68 605.60,124.81 612.16,109.80 618.73,101.90 625.29,101.10 631.86,104.59 638.42,109.01 644.99,119.39 651.56,133.24 658.12,147.91 664.69,162.79 671.25,177.28 677.82,211.08 684.38,236.27 690.95,257.10 697.51,273.82 704.08,296.50 710.64,320.39 717.21,339.83 723.77,365.20 730.34,388.87 736.90,394.07 743.47,399.24 750.03,403.13 756.60,407.49 763.16,404.53 769.73,399.90 776.29,393.33 782.86,383.19 789.42,360.79 795.99,335.38 802.55,313.92 809.12,294.99 815.68,278.07 822.25,259.88" fill="none" stroke="#ffffff" stroke-width="1" stroke-linejoin="round"/>
<polyline points="80.40,199.12 86.97,178.43 93.53,162.89 100.09,157.10 106.66,145.34 113.23,131.39 119.79,112.31 126.36,98.99 132.92,96.64 139.49,101.19 146.05,108.33 152.62,105.92 159.18,112.21 165.75,118.46 172.31,128.74 178.88,143.72 185.44,160.32 192.00,174.76 198.57,184.85 205.14,196.30 211.70,208.01 218.27,226.19 224.83,243.06 231.40,253.20 237.96,257.58 244.53,264.94 251.09,279.34 257.66,281.69 264.22,282.78 270.79,270.31 277.35,252.15 283.92,237.68 290.48,226.83 297.05,212.69 303.61,194.61 310.18,189.36 316.74,182.25 323.31,173.60 329.87,172.24 336.44,167.93 343.00,157.41 349.57,147.84 356.13,143.45 362.70,141.71 369.26,143.26 375.83,151.88 382.39,158.41 388.96,164.84 395.52,174.21 402.09,184.35 408.65,184.89 415.22,186.59 421.78,181.70 428.35,178.20 434.91,174.65 441.48,164.45 448.04,161.81 454.61,154.48 461.17,152.53 467.74,145.04 474.30,148.88 480.87,153.49 487.43,158.15 494.00,168.46 500.56,175.81 507.12,182.90 513.69,189.94 520.25,196.21 526.82,202.20 533.38,204.81 539.95,205.74 546.51,220.56 553.08,220.51 559.64,217.01 566.21,208.12 572.78,199.71 579.34,189.00 585.91,173.95 592.47,155.80 599.03,131.53 605.60,112.41 612.16,102.14 618.73,98.74 625.29,98.50 631.86,98.64 638.42,111.60 644.99,127.09 651.56,136.19 658.12,157.51 664.69,172.02 671.25,186.94 677.82,222.46 684.38,246.64 690.95,265.24 697.51,285.34 704.08,310.75 710.64,330.23 717.21,356.69 723.77,383.44 730.34,386.95 736.90,399.99 743.47,406.55 750.03,410.71 756.60,410.20 763.16,405.41 769.73,397.80 776.29,388.34 782.86,377.05 789.42,349.51 795.99,328.14 802.55,306.19 809.12,284.15 815.68,267.93 822.25,247.89" fill="none" stroke="#ffffff" stroke-width="1" stroke-linejoin="round"/>
<polyline points="80.40,189.79 86.97,174.73 93.53,158.11 100.09,153.21 106.66,138.23 113.23,117.87 119.79,101.37 126.36,94.04 132.92,96.31 139.49,104.21 146.05,102.37 152.62,108.17 159.18,116.31 165.75,124.90 172.31,135.37 178.88,147.86 185.44,163.90 192.00,180.14 198.57,192.57 205.14,204.27 211.70,218.66 218.27,236.27 224.83,248.90 231.40,254.00 237.96,258.54 244.53,271.67 251.09,287.47 257.66,288.47 264.22,283.33 270.79,267.41 277.35,247.70 283.92,231.26 290.48,214.99 297.05,195.50 303.61,187.96 310.18,181.71 316.74,182.69 323.31,177.64 329.87,172.91 336.44,163.94 343.00,151.81 349.57,142.04 356.13,135.49 362.70,135.39 369.26,148.01 375.83,154.37 382.39,162.04 388.96,172.43 395.52,181.96 402.09,188.79 408.65,184.83 415.22,184.90 421.78,182.10 428.35,176.99 434.91,173.26 441.48,161.27 448.04,156.20 454.61,154.03 461.17,145.90 467.74,143.00 474.30,148.59 480.87,152.80 487.43,166.06 494.00,168.87 500.56,180.59 507.12,188.74 513.69,197.21 520.25,197.10 526.82,204.26 533.38,206.13 539.95,208.66 546.51,220.01 553.08,223.57 559.64,219.69 566.21,210.83 572.78,194.26 579.34,186.19 585.91,169.80 592.47,134.64 599.03,118.31 605.60,104.03 612.16,98.56 618.73,95.43 625.29,90.83 631.86,100.11 638.42,119.29 644.99,129.57 651.56,145.49 658.12,167.31 664.69,182.31 671.25,196.50 677.82,232.34 684.38,254.44 690.95,277.17 697.51,300.03 704.08,320.61 710.64,348.11 717.21,376.31 723.77,380.47 730.34,392.70 736.90,408.44 743.47,415.70 750.03,414.27 756.60,412.01 763.16,403.80 769.73,392.73 776.29,382.06 782.86,366.49 789.42,343.26 795.99,321.33 802.55,295.40 809.12,273.43 815.68,255.37 822.25,232.21" fill="none" stroke="#ffffff" stroke-width="1" stroke-linejoin="round"/>
<polyline points="80.40,187.37 86.97,171.13 93.53,153.75 100.09,146.23 106.66,123.60 113.23,106.03 119.79,96.00 126.36,93.23 132.92,99.03 139.49,96.58 146.05,104.40 152.62,112.28 159.18,123.47 165.75,132.00 172.31,138.80 178.88,149.95 185.44,168.37 192.00,188.37 198.57,201.25 205.14,216.07 211.70,229.17 218.27,241.95 224.83,249.12 231.40,254.53 237.96,265.33 244.53,279.88 251.09,296.35 257.66,290.07 264.22,282.12 270.79,264.77 277.35,241.88 283.92,218.18 290.48,195.32 297.05,187.88 303.61,178.80 310.18,182.13 316.74,188.92 323.31,179.33 329.87,169.10 336.44,158.50 343.00,145.72 349.57,132.52 356.13,127.07 362.70,139.62 369.26,150.28 375.83,157.93 382.39,170.43 388.96,181.17 395.52,186.73 402.09,189.37 408.65,182.57 415.22,185.90 421.78,181.33 428.35,175.75 434.91,171.02 441.48,154.63 448.04,155.97 454.61,146.55 461.17,143.67 467.74,141.68 474.30,146.97 480.87,161.13 487.43,166.13 494.00,173.28 500.56,187.02 507.12,197.03 513.69,198.42 520.25,198.65 526.82,205.70 533.38,209.60 539.95,206.03 546.51,223.50 553.08,227.78 559.64,224.77 566.21,206.32 572.78,191.85 579.34,183.38 585.91,147.45 592.47,119.75 599.03,109.52 605.60,100.17 612.16,94.67 618.73,85.97 625.29,91.25 631.86,107.17 638.42,120.88 644.99,139.32 651.56,154.92 658.12,178.53 664.69,192.70 671.25,203.70 677.82,239.07 684.38,266.57 690.95,292.95 697.51,309.75 704.08,339.88 710.64,369.58 717.21,371.67 723.77,386.10 730.34,401.35 736.90,419.43 743.47,420.68 750.03,417.07 756.60,411.23 763.16,398.88 769.73,386.13 776.29,370.57 782.86,362.02 789.42,337.83 795.99,311.27 802.55,284.77 809.12,259.70 815.68,238.33 822.25,213.92" fill="none" stroke="#ffffff" stroke-width="1" stroke-linejoin="round"/>
<polyline points="80.40,185.58 86.97,168.50 93.53,145.48 100.09,130.28 106.66,110.54 113.23,100.52 119.79,95.42 126.36,95.88 132.92,88.84 139.49,97.86 146.05,108.58 152.62,120.06 159.18,131.70 165.75,135.44 172.31,139.50 178.88,152.52 185.44,175.88 192.00,197.94 198.57,214.80 205.14,228.16 211.70,234.56 218.27,240.82 224.83,248.78 231.40,261.88 237.96,273.92 244.53,289.02 251.09,299.84 257.66,289.96 264.22,281.88 270.79,261.20 277.35,228.32 283.92,195.22 290.48,186.14 297.05,176.88 303.61,178.72 310.18,189.50 316.74,193.20 323.31,176.04 329.87,163.60 336.44,152.52 343.00,135.02 349.57,121.82 356.13,130.48 362.70,140.66 369.26,153.74 375.83,167.18 382.39,180.52 388.96,186.74 395.52,187.02 402.09,187.56 408.65,183.30 415.22,185.74 421.78,180.72 428.35,173.56 434.91,165.00 441.48,154.04 448.04,147.38 454.61,144.00 461.17,142.22 467.74,138.36 474.30,155.80 480.87,160.24 487.43,170.88 494.00,179.54 500.56,196.62 507.12,198.44 513.69,200.54 520.25,199.26 526.82,209.78 533.38,206.64 539.95,207.42 546.51,228.54 553.08,235.50 559.64,222.14 566.21,205.84 572.78,189.62 579.34,159.28 585.91,132.14 592.47,109.48 599.03,105.98 605.60,95.82 612.16,83.16 618.73,85.50 625.29,97.94 631.86,106.66 638.42,130.84 644.99,149.40 651.56,165.90 658.12,190.24 664.69,200.58 671.25,206.04 677.82,250.54 684.38,283.38 690.95,303.20 697.51,330.70 704.08,364.00 710.64,362.66 717.21,376.66 723.77,395.16 730.34,413.12 736.90,426.16 743.47,425.32 750.03,417.14 756.60,406.82 763.16,392.20 769.73,373.16 776.29,366.02 782.86,359.26 789.42,329.06 795.99,301.68 802.55,270.56 809.12,240.12 815.68,217.60 822.25,210.56" fill="none" stroke="#00dd00" stroke-width="1" stroke-linejoin="round"/>
<polyline points="80.40,185.90 86.97,161.85 93.53,125.35 100.09,115.62 106.66,104.77 113.23,100.92 119.79,99.28 126.36,82.35 132.92,88.50 139.49,101.45 146.05,117.38 152.62,129.50 159.18,135.93 165.75,135.47 172.31,140.10 178.88,157.95 185.44,184.72 192.00,214.05 198.57,229.60 205.14,234.65 211.70,231.30 218.27,238.33 224.83,256.52 231.40,271.75 237.96,283.85 244.53,291.55 251.09,302.15 257.66,291.62 264.22,281.70 270.79,249.07 277.35,202.15 283.92,183.73 290.48,171.95 297.05,176.30 303.61,187.07 310.18,195.00 316.74,192.55 323.31,170.90 329.87,157.40 336.44,140.85 343.00,122.27 349.57,124.77 356.13,129.50 362.70,142.57 369.26,164.25 375.83,178.97 382.39,187.32 388.96,187.10 395.52,184.18 402.09,189.72 408.65,182.45 415.22,186.07 421.78,179.23 428.35,166.67 434.91,166.85 441.48,142.83 448.04,144.40 454.61,142.28 461.17,138.20 467.74,147.25 474.30,153.35 480.87,164.70 487.43,178.10 494.00,189.68 500.56,198.28 507.12,201.10 513.69,201.78 520.25,202.75 526.82,206.12 533.38,208.52 539.95,209.70 546.51,238.38 553.08,234.90 559.64,225.50 566.21,206.55 572.78,161.05 579.34,143.10 585.91,122.40 592.47,105.05 599.03,102.00 605.60,81.72 612.16,81.88 618.73,92.43 625.29,95.00 631.86,115.55 638.42,141.32 644.99,161.75 651.56,177.38 658.12,199.48 664.69,202.72 671.25,212.12 677.82,267.55 684.38,293.80 690.95,327.75 697.51,358.55 704.08,353.95 710.64,366.65 717.21,385.62 723.77,408.32 730.34,419.95 736.90,433.32 743.47,427.47 750.03,413.10 756.60,400.45 763.16,377.50 769.73,368.12 776.29,363.58 782.86,353.65 789.42,321.53 795.99,288.15 802.55,248.80 809.12,214.65 815.68,214.32 822.25,207.62" fill="none" stroke="#ffffff" stroke-width="1" stroke-linejoin="round"/>
<polyline points="80.40,182.83 86.97,140.47 93.53,104.17 100.09,109.63 106.66,106.73 113.23,107.90 119.79,82.37 126.36,79.73 132.92,90.17 139.49,110.80 146.05,129.07 152.62,134.40 159.18,136.13 165.75,134.93 172.31,143.20 178.88,163.77 185.44,201.80 192.00,233.53 198.57,238.73 205.14,230.33 211.70,224.80 218.27,245.17 224.83,267.90 231.40,284.27 237.96,285.50 244.53,291.87 251.09,308.43 257.66,294.63 264.22,272.37 270.79,221.10 277.35,189.13 283.92,164.00 290.48,169.53 297.05,186.63 303.61,193.60 310.18,194.73 316.74,191.20 323.31,165.07 329.87,143.47 336.44,125.80 343.00,126.37 349.57,121.57 356.13,128.33 362.70,152.87 369.26,179.00 375.83,187.53 382.39,188.00 388.96,183.33 395.52,185.93 402.09,190.73 408.65,181.80 415.22,185.87 421.78,171.93 428.35,169.70 434.91,156.17 441.48,137.33 448.04,142.23 454.61,136.93 461.17,150.00 467.74,141.13 474.30,157.00 480.87,172.27 487.43,191.13 494.00,189.57 500.56,201.77 507.12,202.93 513.69,207.27 520.25,195.53 526.82,208.47 533.38,211.93 539.95,216.53 546.51,238.53 553.08,243.63 559.64,233.00 566.21,174.10 572.78,140.07 579.34,133.77 585.91,120.80 592.47,99.43 599.03,85.27 605.60,79.53 612.16,89.90 618.73,86.67 625.29,102.97 631.86,124.43 638.42,155.10 644.99,175.67 651.56,185.40 658.12,201.97 664.69,209.73 671.25,222.00 677.82,276.17 684.38,323.40 690.95,363.90 697.51,343.33 704.08,356.37 710.64,375.27 717.21,400.00 723.77,415.83 730.34,427.43 736.90,438.87 743.47,425.53 750.03,406.70 756.60,383.60 763.16,372.23 769.73,365.57 776.29,357.53 782.86,351.80 789.42,310.10 795.99,265.00 802.55,217.73 809.12,209.30 815.68,211.67 822.25,210.10" fill="none" stroke="#00e5ee" stroke-width="1" stroke-linejoin="round"/>
<polyline points="80.40,161.25 86.97,116.25 93.53,89.45 100.09,115.00 106.66,120.10 113.23,86.85 119.79,78.45 126.36,77.85 132.92,98.55 139.49,125.05 146.05,136.20 152.62,133.95 159.18,135.65 165.75,137.00 172.31,144.55 178.88,178.90 185.44,224.90 192.00,249.20 198.57,234.30 205.14,220.10 211.70,228.30 218.27,256.55 224.83,284.75 231.40,286.95 237.96,282.95 244.53,296.15 251.09,321.35 257.66,287.10 264.22,242.05 270.79,211.05 277.35,162.25 283.92,156.40 290.48,181.65 297.05,196.20 303.61,192.50 310.18,193.80 316.74,192.60 323.31,148.00 329.87,122.20 336.44,133.70 343.00,122.35 349.57,115.85 356.13,136.65 362.70,169.30 369.26,191.85 375.83,188.65 382.39,182.80 388.96,185.55 395.52,185.55 402.09,193.90 408.65,179.35 415.22,178.25 421.78,179.10 428.35,155.10 434.91,154.60 441.48,130.55 448.04,134.20 454.61,154.00 461.17,142.20 467.74,140.50 474.30,164.50 480.87,188.90 487.43,191.70 494.00,190.45 500.56,204.85 507.12,211.75 513.69,198.70 520.25,193.75 526.82,213.55 533.38,223.30 539.95,205.85 546.51,253.45 553.08,263.95 559.64,197.55 566.21,149.15 572.78,124.55 579.34,137.05 585.91,120.25 592.47,73.05 599.03,83.75 605.60,90.40 612.16,80.00 618.73,94.45 625.29,110.00 631.86,136.65 638.42,172.65 644.99,186.85 651.56,182.10 658.12,212.10 664.69,223.35 671.25,212.15 677.82,311.75 684.38,375.45 690.95,343.75 697.51,341.65 704.08,364.15 710.64,391.65 717.21,407.10 723.77,425.00 730.34,432.80 736.90,441.65 743.47,422.15 750.03,384.55 756.60,378.75 763.16,370.45 769.73,357.50 776.29,356.70 782.86,349.80 789.42,286.35 795.99,226.50 802.55,211.25 809.12,202.80 815.68,217.40 822.25,212.45" fill="none" stroke="#ffffff" stroke-width="1" stroke-linejoin="round"/>
<polyline points="80.40,133.60 86.97,98.90 93.53,80.00 100.09,150.00 106.66,90.20 113.23,83.50 119.79,73.40 126.36,82.30 132.92,114.80 139.49,135.30 146.05,137.10 152.62,130.80 159.18,140.50 165.75,133.50 172.31,155.60 178.88,202.20 185.44,247.60 192.00,250.80 198.57,217.80 205.14,222.40 211.70,234.20 218.27,278.90 224.83,290.60 231.40,283.30 237.96,282.60 244.53,309.70 251.09,333.00 257.66,241.20 264.22,242.90 270.79,179.20 277.35,145.30 283.92,167.50 290.48,195.80 297.05,196.60 303.61,188.40 310.18,199.20 316.74,186.00 323.31,110.00 329.87,134.40 336.44,133.00 343.00,111.70 349.57,120.00 356.13,153.30 362.70,185.30 369.26,198.40 375.83,178.90 382.39,186.70 388.96,184.40 395.52,186.70 402.09,201.10 408.65,157.60 415.22,198.90 421.78,159.30 428.35,150.90 434.91,158.30 441.48,102.80 448.04,165.60 454.61,142.40 461.17,142.00 467.74,139.00 474.30,190.00 480.87,187.80 487.43,195.60 494.00,185.30 500.56,224.40 507.12,199.10 513.69,198.30 520.25,189.20 526.82,237.90 533.38,208.70 539.95,203.00 546.51,303.90 553.08,224.00 559.64,171.10 566.21,127.20 572.78,121.90 579.34,152.20 585.91,88.30 592.47,57.80 599.03,109.70 605.60,71.10 612.16,88.90 618.73,100.00 625.29,120.00 631.86,153.30 638.42,192.00 644.99,181.70 651.56,182.50 658.12,241.70 664.69,205.00 671.25,219.30 677.82,404.20 684.38,346.70 690.95,340.80 697.51,342.50 704.08,385.80 710.64,397.50 717.21,416.70 723.77,433.30 730.34,432.30 736.90,451.00 743.47,393.30 750.03,375.80 756.60,381.70 763.16,359.20 769.73,355.80 776.29,357.60 782.86,342.00 789.42,230.70 795.99,222.30 802.55,200.20 809.12,205.40 815.68,229.40 822.25,195.50" fill="none" stroke="#ffffff" stroke-width="1" stroke-linejoin="round"/>
<rect x="50.5" y="28.9" width="806.1" height="640.5" fill="none" stroke="#e8e8e8" stroke-width="1.3"/>
<line x1="50.5" y1="469.4" x2="856.6" y2="469.4" stroke="#e8e8e8" stroke-width="1.3"/>
<line x1="856.6" y1="386.40" x2="864.1" y2="386.40" stroke="#e8e8e8" stroke-width="1.3"/>
<text x="871" y="390.9" class="ax">45</text>
<line x1="856.6" y1="263.55" x2="864.1" y2="263.55" stroke="#e8e8e8" stroke-width="1.3"/>
<text x="871" y="268.1" class="ax">50</text>
<line x1="856.6" y1="140.70" x2="864.1" y2="140.70" stroke="#e8e8e8" stroke-width="1.3"/>
<text x="871" y="145.2" class="ax">55</text>
<line x1="43.0" y1="659.4" x2="50.5" y2="659.4" stroke="#e8e8e8" stroke-width="1.3"/>
<text x="36" y="664.0" class="ax" text-anchor="end">2</text>
<line x1="43.0" y1="625.6" x2="50.5" y2="625.6" stroke="#e8e8e8" stroke-width="1.3"/>
<text x="36" y="630.2" class="ax" text-anchor="end">4</text>
<line x1="43.0" y1="591.9" x2="50.5" y2="591.9" stroke="#e8e8e8" stroke-width="1.3"/>
<text x="36" y="596.5" class="ax" text-anchor="end">6</text>
<line x1="43.0" y1="558.1" x2="50.5" y2="558.1" stroke="#e8e8e8" stroke-width="1.3"/>
<text x="36" y="562.7" class="ax" text-anchor="end">8</text>
<line x1="43.0" y1="524.4" x2="50.5" y2="524.4" stroke="#e8e8e8" stroke-width="1.3"/>
<text x="36" y="529.0" class="ax" text-anchor="end">10</text>
<line x1="43.0" y1="490.6" x2="50.5" y2="490.6" stroke="#e8e8e8" stroke-width="1.3"/>
<text x="36" y="495.2" class="ax" text-anchor="end">12</text>
<line x1="80.40" y1="669.4" x2="80.40" y2="675.9" stroke="#3c3c3c" stroke-width="1"/>
<line x1="86.97" y1="669.4" x2="86.97" y2="675.9" stroke="#3c3c3c" stroke-width="1"/>
<line x1="93.53" y1="669.4" x2="93.53" y2="675.9" stroke="#3c3c3c" stroke-width="1"/>
<line x1="100.09" y1="669.4" x2="100.09" y2="675.9" stroke="#3c3c3c" stroke-width="1"/>
<line x1="106.66" y1="669.4" x2="106.66" y2="675.9" stroke="#3c3c3c" stroke-width="1"/>
<line x1="113.23" y1="669.4" x2="113.23" y2="675.9" stroke="#3c3c3c" stroke-width="1"/>
<line x1="119.79" y1="669.4" x2="119.79" y2="675.9" stroke="#3c3c3c" stroke-width="1"/>
<line x1="126.36" y1="669.4" x2="126.36" y2="675.9" stroke="#3c3c3c" stroke-width="1"/>
<line x1="132.92" y1="669.4" x2="132.92" y2="675.9" stroke="#3c3c3c" stroke-width="1"/>
<line x1="139.49" y1="669.4" x2="139.49" y2="675.9" stroke="#3c3c3c" stroke-width="1"/>
<line x1="146.05" y1="669.4" x2="146.05" y2="675.9" stroke="#3c3c3c" stroke-width="1"/>
<line x1="152.62" y1="669.4" x2="152.62" y2="675.9" stroke="#3c3c3c" stroke-width="1"/>
<line x1="159.18" y1="669.4" x2="159.18" y2="675.9" stroke="#3c3c3c" stroke-width="1"/>
<line x1="165.75" y1="669.4" x2="165.75" y2="675.9" stroke="#3c3c3c" stroke-width="1"/>
<line x1="172.31" y1="669.4" x2="172.31" y2="675.9" stroke="#3c3c3c" stroke-width="1"/>
<line x1="178.88" y1="669.4" x2="178.88" y2="675.9" stroke="#3c3c3c" stroke-width="1"/>
<line x1="185.44" y1="669.4" x2="185.44" y2="675.9" stroke="#3c3c3c" stroke-width="1"/>
<line x1="192.00" y1="669.4" x2="192.00" y2="675.9" stroke="#3c3c3c" stroke-width="1"/>
<line x1="198.57" y1="669.4" x2="198.57" y2="675.9" stroke="#3c3c3c" stroke-width="1"/>
<line x1="205.14" y1="669.4" x2="205.14" y2="675.9" stroke="#3c3c3c" stroke-width="1"/>
<line x1="211.70" y1="669.4" x2="211.70" y2="675.9" stroke="#3c3c3c" stroke-width="1"/>
<line x1="218.27" y1="669.4" x2="218.27" y2="675.9" stroke="#3c3c3c" stroke-width="1"/>
<line x1="224.83" y1="669.4" x2="224.83" y2="675.9" stroke="#3c3c3c" stroke-width="1"/>
<line x1="231.40" y1="669.4" x2="231.40" y2="675.9" stroke="#3c3c3c" stroke-width="1"/>
<line x1="237.96" y1="669.4" x2="237.96" y2="675.9" stroke="#3c3c3c" stroke-width="1"/>
<line x1="244.53" y1="669.4" x2="244.53" y2="675.9" stroke="#3c3c3c" stroke-width="1"/>
<line x1="251.09" y1="669.4" x2="251.09" y2="675.9" stroke="#3c3c3c" stroke-width="1"/>
<line x1="257.66" y1="669.4" x2="257.66" y2="675.9" stroke="#3c3c3c" stroke-width="1"/>
<line x1="264.22" y1="669.4" x2="264.22" y2="675.9" stroke="#3c3c3c" stroke-width="1"/>
<line x1="270.79" y1="669.4" x2="270.79" y2="675.9" stroke="#3c3c3c" stroke-width="1"/>
<line x1="277.35" y1="669.4" x2="277.35" y2="675.9" stroke="#3c3c3c" stroke-width="1"/>
<line x1="283.92" y1="669.4" x2="283.92" y2="675.9" stroke="#3c3c3c" stroke-width="1"/>
<line x1="290.48" y1="669.4" x2="290.48" y2="675.9" stroke="#3c3c3c" stroke-width="1"/>
<line x1="297.05" y1="669.4" x2="297.05" y2="675.9" stroke="#3c3c3c" stroke-width="1"/>
<line x1="303.61" y1="669.4" x2="303.61" y2="675.9" stroke="#3c3c3c" stroke-width="1"/>
<line x1="310.18" y1="669.4" x2="310.18" y2="675.9" stroke="#3c3c3c" stroke-width="1"/>
<line x1="316.74" y1="669.4" x2="316.74" y2="675.9" stroke="#3c3c3c" stroke-width="1"/>
<line x1="323.31" y1="669.4" x2="323.31" y2="675.9" stroke="#3c3c3c" stroke-width="1"/>
<line x1="329.87" y1="669.4" x2="329.87" y2="675.9" stroke="#3c3c3c" stroke-width="1"/>
<line x1="336.44" y1="669.4" x2="336.44" y2="675.9" stroke="#3c3c3c" stroke-width="1"/>
<line x1="343.00" y1="669.4" x2="343.00" y2="675.9" stroke="#3c3c3c" stroke-width="1"/>
<line x1="349.57" y1="669.4" x2="349.57" y2="675.9" stroke="#3c3c3c" stroke-width="1"/>
<line x1="356.13" y1="669.4" x2="356.13" y2="675.9" stroke="#3c3c3c" stroke-width="1"/>
<line x1="362.70" y1="669.4" x2="362.70" y2="675.9" stroke="#3c3c3c" stroke-width="1"/>
<line x1="369.26" y1="669.4" x2="369.26" y2="675.9" stroke="#3c3c3c" stroke-width="1"/>
<line x1="375.83" y1="669.4" x2="375.83" y2="675.9" stroke="#3c3c3c" stroke-width="1"/>
<line x1="382.39" y1="669.4" x2="382.39" y2="675.9" stroke="#3c3c3c" stroke-width="1"/>
<line x1="388.96" y1="669.4" x2="388.96" y2="675.9" stroke="#3c3c3c" stroke-width="1"/>
<line x1="395.52" y1="669.4" x2="395.52" y2="675.9" stroke="#3c3c3c" stroke-width="1"/>
<line x1="402.09" y1="669.4" x2="402.09" y2="675.9" stroke="#3c3c3c" stroke-width="1"/>
<line x1="408.65" y1="669.4" x2="408.65" y2="675.9" stroke="#3c3c3c" stroke-width="1"/>
<line x1="415.22" y1="669.4" x2="415.22" y2="675.9" stroke="#3c3c3c" stroke-width="1"/>
<line x1="421.78" y1="669.4" x2="421.78" y2="675.9" stroke="#3c3c3c" stroke-width="1"/>
<line x1="428.35" y1="669.4" x2="428.35" y2="675.9" stroke="#3c3c3c" stroke-width="1"/>
<line x1="434.91" y1="669.4" x2="434.91" y2="675.9" stroke="#3c3c3c" stroke-width="1"/>
<line x1="441.48" y1="669.4" x2="441.48" y2="675.9" stroke="#3c3c3c" stroke-width="1"/>
<line x1="448.04" y1="669.4" x2="448.04" y2="675.9" stroke="#3c3c3c" stroke-width="1"/>
<line x1="454.61" y1="669.4" x2="454.61" y2="675.9" stroke="#3c3c3c" stroke-width="1"/>
<line x1="461.17" y1="669.4" x2="461.17" y2="675.9" stroke="#3c3c3c" stroke-width="1"/>
<line x1="467.74" y1="669.4" x2="467.74" y2="675.9" stroke="#3c3c3c" stroke-width="1"/>
<line x1="474.30" y1="669.4" x2="474.30" y2="675.9" stroke="#3c3c3c" stroke-width="1"/>
<line x1="480.87" y1="669.4" x2="480.87" y2="675.9" stroke="#3c3c3c" stroke-width="1"/>
<line x1="487.43" y1="669.4" x2="487.43" y2="675.9" stroke="#3c3c3c" stroke-width="1"/>
<line x1="494.00" y1="669.4" x2="494.00" y2="675.9" stroke="#3c3c3c" stroke-width="1"/>
<line x1="500.56" y1="669.4" x2="500.56" y2="675.9" stroke="#3c3c3c" stroke-width="1"/>
<line x1="507.12" y1="669.4" x2="507.12" y2="675.9" stroke="#3c3c3c" stroke-width="1"/>
<line x1="513.69" y1="669.4" x2="513.69" y2="675.9" stroke="#3c3c3c" stroke-width="1"/>
<line x1="520.25" y1="669.4" x2="520.25" y2="675.9" stroke="#3c3c3c" stroke-width="1"/>
<line x1="526.82" y1="669.4" x2="526.82" y2="675.9" stroke="#3c3c3c" stroke-width="1"/>
<line x1="533.38" y1="669.4" x2="533.38" y2="675.9" stroke="#3c3c3c" stroke-width="1"/>
<line x1="539.95" y1="669.4" x2="539.95" y2="675.9" stroke="#3c3c3c" stroke-width="1"/>
<line x1="546.51" y1="669.4" x2="546.51" y2="675.9" stroke="#3c3c3c" stroke-width="1"/>
<line x1="553.08" y1="669.4" x2="553.08" y2="675.9" stroke="#3c3c3c" stroke-width="1"/>
<line x1="559.64" y1="669.4" x2="559.64" y2="675.9" stroke="#3c3c3c" stroke-width="1"/>
<line x1="566.21" y1="669.4" x2="566.21" y2="675.9" stroke="#3c3c3c" stroke-width="1"/>
<line x1="572.78" y1="669.4" x2="572.78" y2="675.9" stroke="#3c3c3c" stroke-width="1"/>
<line x1="579.34" y1="669.4" x2="579.34" y2="675.9" stroke="#3c3c3c" stroke-width="1"/>
<line x1="585.91" y1="669.4" x2="585.91" y2="675.9" stroke="#3c3c3c" stroke-width="1"/>
<line x1="592.47" y1="669.4" x2="592.47" y2="675.9" stroke="#3c3c3c" stroke-width="1"/>
<line x1="599.03" y1="669.4" x2="599.03" y2="675.9" stroke="#3c3c3c" stroke-width="1"/>
<line x1="605.60" y1="669.4" x2="605.60" y2="675.9" stroke="#3c3c3c" stroke-width="1"/>
<line x1="612.16" y1="669.4" x2="612.16" y2="675.9" stroke="#3c3c3c" stroke-width="1"/>
<line x1="618.73" y1="669.4" x2="618.73" y2="675.9" stroke="#3c3c3c" stroke-width="1"/>
<line x1="625.29" y1="669.4" x2="625.29" y2="675.9" stroke="#3c3c3c" stroke-width="1"/>
<line x1="631.86" y1="669.4" x2="631.86" y2="675.9" stroke="#3c3c3c" stroke-width="1"/>
<line x1="638.42" y1="669.4" x2="638.42" y2="675.9" stroke="#3c3c3c" stroke-width="1"/>
<line x1="644.99" y1="669.4" x2="644.99" y2="675.9" stroke="#3c3c3c" stroke-width="1"/>
<line x1="651.56" y1="669.4" x2="651.56" y2="675.9" stroke="#3c3c3c" stroke-width="1"/>
<line x1="658.12" y1="669.4" x2="658.12" y2="675.9" stroke="#3c3c3c" stroke-width="1"/>
<line x1="664.69" y1="669.4" x2="664.69" y2="675.9" stroke="#3c3c3c" stroke-width="1"/>
<line x1="671.25" y1="669.4" x2="671.25" y2="675.9" stroke="#3c3c3c" stroke-width="1"/>
<line x1="677.82" y1="669.4" x2="677.82" y2="675.9" stroke="#3c3c3c" stroke-width="1"/>
<line x1="684.38" y1="669.4" x2="684.38" y2="675.9" stroke="#3c3c3c" stroke-width="1"/>
<line x1="690.95" y1="669.4" x2="690.95" y2="675.9" stroke="#3c3c3c" stroke-width="1"/>
<line x1="697.51" y1="669.4" x2="697.51" y2="675.9" stroke="#3c3c3c" stroke-width="1"/>
<line x1="704.08" y1="669.4" x2="704.08" y2="675.9" stroke="#3c3c3c" stroke-width="1"/>
<line x1="710.64" y1="669.4" x2="710.64" y2="675.9" stroke="#3c3c3c" stroke-width="1"/>
<line x1="717.21" y1="669.4" x2="717.21" y2="675.9" stroke="#3c3c3c" stroke-width="1"/>
<line x1="723.77" y1="669.4" x2="723.77" y2="675.9" stroke="#3c3c3c" stroke-width="1"/>
<line x1="730.34" y1="669.4" x2="730.34" y2="675.9" stroke="#3c3c3c" stroke-width="1"/>
<line x1="736.90" y1="669.4" x2="736.90" y2="675.9" stroke="#3c3c3c" stroke-width="1"/>
<line x1="743.47" y1="669.4" x2="743.47" y2="675.9" stroke="#3c3c3c" stroke-width="1"/>
<line x1="750.03" y1="669.4" x2="750.03" y2="675.9" stroke="#3c3c3c" stroke-width="1"/>
<line x1="756.60" y1="669.4" x2="756.60" y2="675.9" stroke="#3c3c3c" stroke-width="1"/>
<line x1="763.16" y1="669.4" x2="763.16" y2="675.9" stroke="#3c3c3c" stroke-width="1"/>
<line x1="769.73" y1="669.4" x2="769.73" y2="675.9" stroke="#3c3c3c" stroke-width="1"/>
<line x1="776.29" y1="669.4" x2="776.29" y2="675.9" stroke="#3c3c3c" stroke-width="1"/>
<line x1="782.86" y1="669.4" x2="782.86" y2="675.9" stroke="#3c3c3c" stroke-width="1"/>
<line x1="789.42" y1="669.4" x2="789.42" y2="675.9" stroke="#3c3c3c" stroke-width="1"/>
<line x1="795.99" y1="669.4" x2="795.99" y2="675.9" stroke="#3c3c3c" stroke-width="1"/>
<line x1="802.55" y1="669.4" x2="802.55" y2="675.9" stroke="#3c3c3c" stroke-width="1"/>
<line x1="809.12" y1="669.4" x2="809.12" y2="675.9" stroke="#3c3c3c" stroke-width="1"/>
<line x1="815.68" y1="669.4" x2="815.68" y2="675.9" stroke="#3c3c3c" stroke-width="1"/>
<line x1="822.25" y1="669.4" x2="822.25" y2="675.9" stroke="#3c3c3c" stroke-width="1"/>
<line x1="80.40" y1="669.4" x2="80.40" y2="676.9" stroke="#a8a8a8" stroke-width="1.1"/>
<line x1="100.09" y1="669.4" x2="100.09" y2="676.9" stroke="#a8a8a8" stroke-width="1.1"/>
<line x1="132.92" y1="669.4" x2="132.92" y2="676.9" stroke="#a8a8a8" stroke-width="1.1"/>
<line x1="165.75" y1="669.4" x2="165.75" y2="676.9" stroke="#a8a8a8" stroke-width="1.1"/>
<line x1="198.57" y1="669.4" x2="198.57" y2="676.9" stroke="#a8a8a8" stroke-width="1.1"/>
<line x1="231.40" y1="669.4" x2="231.40" y2="676.9" stroke="#a8a8a8" stroke-width="1.1"/>
<line x1="264.22" y1="669.4" x2="264.22" y2="676.9" stroke="#a8a8a8" stroke-width="1.1"/>
<line x1="297.05" y1="669.4" x2="297.05" y2="676.9" stroke="#a8a8a8" stroke-width="1.1"/>
<line x1="329.87" y1="669.4" x2="329.87" y2="676.9" stroke="#a8a8a8" stroke-width="1.1"/>
<line x1="362.70" y1="669.4" x2="362.70" y2="676.9" stroke="#a8a8a8" stroke-width="1.1"/>
<line x1="388.96" y1="669.4" x2="388.96" y2="676.9" stroke="#a8a8a8" stroke-width="1.1"/>
<line x1="421.78" y1="669.4" x2="421.78" y2="676.9" stroke="#a8a8a8" stroke-width="1.1"/>
<line x1="454.61" y1="669.4" x2="454.61" y2="676.9" stroke="#a8a8a8" stroke-width="1.1"/>
<line x1="487.43" y1="669.4" x2="487.43" y2="676.9" stroke="#a8a8a8" stroke-width="1.1"/>
<line x1="520.25" y1="669.4" x2="520.25" y2="676.9" stroke="#a8a8a8" stroke-width="1.1"/>
<line x1="553.08" y1="669.4" x2="553.08" y2="676.9" stroke="#a8a8a8" stroke-width="1.1"/>
<line x1="585.91" y1="669.4" x2="585.91" y2="676.9" stroke="#a8a8a8" stroke-width="1.1"/>
<line x1="618.73" y1="669.4" x2="618.73" y2="676.9" stroke="#a8a8a8" stroke-width="1.1"/>
<line x1="651.56" y1="669.4" x2="651.56" y2="676.9" stroke="#a8a8a8" stroke-width="1.1"/>
<line x1="684.38" y1="669.4" x2="684.38" y2="676.9" stroke="#a8a8a8" stroke-width="1.1"/>
<line x1="717.21" y1="669.4" x2="717.21" y2="676.9" stroke="#a8a8a8" stroke-width="1.1"/>
<line x1="750.03" y1="669.4" x2="750.03" y2="676.9" stroke="#a8a8a8" stroke-width="1.1"/>
<line x1="776.29" y1="669.4" x2="776.29" y2="676.9" stroke="#a8a8a8" stroke-width="1.1"/>
<line x1="809.12" y1="669.4" x2="809.12" y2="676.9" stroke="#a8a8a8" stroke-width="1.1"/>
<line x1="822.25" y1="669.4" x2="822.25" y2="676.9" stroke="#a8a8a8" stroke-width="1.1"/>
<line x1="80.40" y1="669.4" x2="822.25" y2="669.4" stroke="#9a9a9a" stroke-width="1.4"/>
<text x="80.40" y="695.7" class="ax" text-anchor="middle">Jul 01</text>
<text x="80.40" y="709.5" class="ax" text-anchor="middle">2025</text>
<text x="132.92" y="695.7" class="ax" text-anchor="middle">Jul 14</text>
<text x="132.92" y="709.5" class="ax" text-anchor="middle">2025</text>
<text x="198.57" y="695.7" class="ax" text-anchor="middle">Jul 28</text>
<text x="198.57" y="709.5" class="ax" text-anchor="middle">2025</text>
<text x="264.22" y="695.7" class="ax" text-anchor="middle">Aug 11</text>
<text x="264.22" y="709.5" class="ax" text-anchor="middle">2025</text>
<text x="329.87" y="695.7" class="ax" text-anchor="middle">Aug 25</text>
<text x="329.87" y="709.5" class="ax" text-anchor="middle">2025</text>
<text x="388.96" y="695.7" class="ax" text-anchor="middle">Sep 08</text>
<text x="388.96" y="709.5" class="ax" text-anchor="middle">2025</text>
<text x="454.61" y="695.7" class="ax" text-anchor="middle">Sep 22</text>
<text x="454.61" y="709.5" class="ax" text-anchor="middle">2025</text>
<text x="520.25" y="695.7" class="ax" text-anchor="middle">Oct 06</text>
<text x="520.25" y="709.5" class="ax" text-anchor="middle">2025</text>
<text x="585.91" y="695.7" class="ax" text-anchor="middle">Oct 20</text>
<text x="585.91" y="709.5" class="ax" text-anchor="middle">2025</text>
<text x="651.56" y="695.7" class="ax" text-anchor="middle">Nov 03</text>
<text x="651.56" y="709.5" class="ax" text-anchor="middle">2025</text>
<text x="717.21" y="695.7" class="ax" text-anchor="middle">Nov 17</text>
<text x="717.21" y="709.5" class="ax" text-anchor="middle">2025</text>
<text x="776.29" y="695.7" class="ax" text-anchor="middle">Dec 01</text>
<text x="776.29" y="709.5" class="ax" text-anchor="middle">2025</text>
<text x="50.5" y="19.8" class="title">DIOD&#160; 6 month - daily close</text>
<text x="858" y="20.4" class="title" fill="#999999" text-anchor="end" style="fill:#999999;font-size:14.7px">[2025-07-01/2025-12-10]</text>
<text x="72.5" y="46.7" class="lg" style="fill:#00ff00">Last 52.7700004577637</text>
<text x="72.1" y="488.2" class="lg" style="fill:#dddddd">Volume (100,000s):</text>
<text x="71.7" y="501.6" class="lg" style="fill:#00ff00">341,600</text>
</svg>
</body></html>
